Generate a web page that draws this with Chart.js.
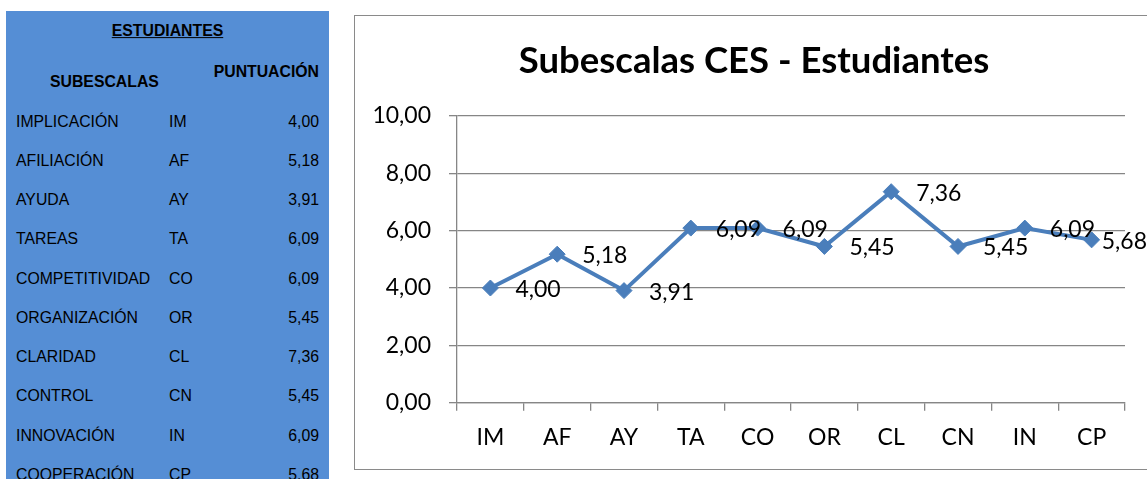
<!DOCTYPE html>
<html><head><meta charset="utf-8">
<script src="https://cdn.jsdelivr.net/npm/chart.js@4.4.0/dist/chart.umd.min.js"></script>
<style>
html,body{margin:0;padding:0;width:1147px;height:479px;overflow:hidden;background:#fff;}
#tbl{position:absolute;left:6px;top:11px;width:323px;height:480px;background:#558ed5;font-family:"Liberation Sans",Arial,sans-serif;color:#000;}
.t{position:absolute;white-space:nowrap;line-height:1;font-size:15.8px;transform:translateY(-50%);}
.b{font-weight:bold;}
#box{position:absolute;left:354px;top:15px;width:798px;height:453px;border:1px solid #8a8a8a;}
canvas{display:block}
</style></head><body>
<div id="tbl"></div>
<div id="box"><canvas id="c" width="798" height="453"></canvas></div>
<script>
const tableTitle = "ESTUDIANTES";
const colHeaders = ["SUBESCALAS", "PUNTUACIÓN"];
const subscaleNames = ["IMPLICACIÓN","AFILIACIÓN","AYUDA","TAREAS","COMPETITIVIDAD","ORGANIZACIÓN","CLARIDAD","CONTROL","INNOVACIÓN","COOPERACIÓN"];
const categories = ["IM","AF","AY","TA","CO","OR","CL","CN","IN","CP"];
const values = [4.00, 5.18, 3.91, 6.09, 6.09, 5.45, 7.36, 5.45, 6.09, 5.68];
const chartTitle = "Subescalas CES - Estudiantes";
const yMin = 0, yMax = 10, yStep = 2;

const fmt = v => v.toFixed(2).replace('.', ',');

// table
const tbl = document.getElementById('tbl');
function addText(txt, left, centerY, cls, alignRight) {
  const d = document.createElement('div');
  d.className = 't ' + (cls || '');
  d.textContent = txt;
  d.style.top = (centerY - 11) + 'px';
  if (alignRight) d.style.right = (329 - left) + 'px'; else d.style.left = (left - 6) + 'px';
  tbl.appendChild(d);
  return d;
}
const tt = addText(tableTitle, 0, 31, 'b');
tt.style.left = '0'; tt.style.width = '323px'; tt.style.textAlign = 'center';
tt.innerHTML = '<span style="text-decoration:underline">' + tableTitle + '</span>';
addText(colHeaders[0], 50, 82, 'b');
addText(colHeaders[1], 319, 72, 'b', true);
subscaleNames.forEach((n, i) => {
  const cy = 121.5 + 39.25 * i;
  addText(n, 16, cy);
  addText(categories[i], 169, cy);
  addText(fmt(values[i]), 319, cy, '', true);
});

const labelPlugin = {
  id: 'vals',
  afterDatasetsDraw(chart) {
    const ctx = chart.ctx;
    const meta = chart.getDatasetMeta(0);
    ctx.save();
    ctx.font = '23px Lato';
    ctx.fillStyle = '#000';
    ctx.textBaseline = 'middle';
    ctx.textAlign = 'left';
    meta.data.forEach((p, i) => {
      const s = fmt(values[i]);
      const w = ctx.measureText(s).width;
      const x = Math.min(p.x + 25, chart.width - 6 - w);
      ctx.fillText(s, x, p.y + 1.5);
    });
    ctx.restore();
  },
  afterDraw(chart) {
    const ctx = chart.ctx;
    ctx.save();
    ctx.font = 'bold 36.5px Lato';
    ctx.fillStyle = '#000';
    ctx.textAlign = 'center';
    ctx.textBaseline = 'middle';
    ctx.fillText(chartTitle, chart.width / 2, 45);
    ctx.restore();
  }
};

function draw() {
  new Chart(document.getElementById('c'), {
    type: 'line',
    data: {
      labels: categories,
      datasets: [{
        data: values,
        borderColor: '#4a7ebb',
        backgroundColor: '#4a7ebb',
        borderWidth: 4,
        pointStyle: 'rectRot',
        pointRadius: 8,
        pointBorderWidth: 1,
        pointBackgroundColor: '#4a7ebb',
        pointBorderColor: '#4a7ebb',
        tension: 0,
        clip: false
      }]
    },
    options: {
      responsive: false,
      animation: false,
      devicePixelRatio: 1,
      layout: { padding: { left: 0, right: 28, top: 100, bottom: 0 } },
      plugins: {
        legend: { display: false },
        tooltip: { enabled: false },
        title: { display: false }
      },
      scales: {
        x: {
          type: 'category', offset: true,
          grid: { offset: true, drawOnChartArea: false, drawTicks: true, tickLength: 8, color: '#868686', lineWidth: 1.3 },
          border: { display: true, color: '#868686', width: 1.3 },
          ticks: { color: '#000', font: { family: 'Lato', size: 23 }, padding: 13.5, maxRotation: 0, autoSkip: false },
          afterFit(a) { a.height = 66.3; }
        },
        y: {
          min: yMin, max: yMax,
          ticks: { stepSize: yStep, color: '#000', font: { family: 'Lato', size: 23 }, padding: 18, callback: v => fmt(v) },
          grid: { color: '#868686', lineWidth: 1.3, tickLength: 8 },
          border: { display: true, color: '#868686', width: 1.3 },
          afterFit(a) { a.width = 102; }
        }
      }
    },
    plugins: [labelPlugin]
  });
}
Promise.all([document.fonts.load('23px Lato'), document.fonts.load('bold 36.5px Lato')]).then(draw, draw);
</script>
</body></html>
